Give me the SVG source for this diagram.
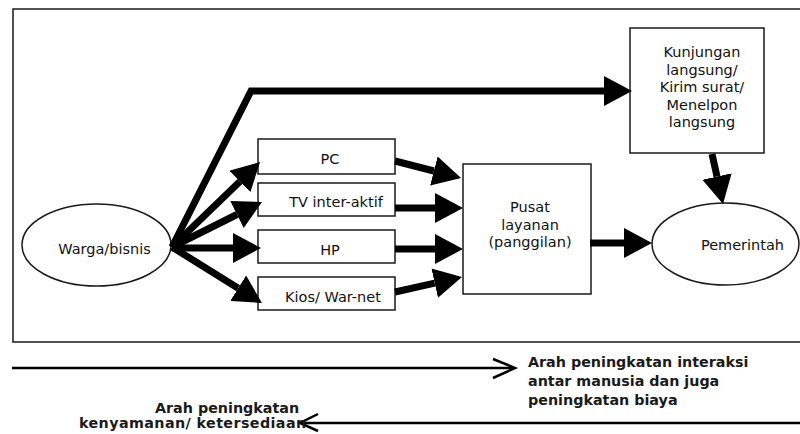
<svg xmlns="http://www.w3.org/2000/svg" width="800" height="434" viewBox="0 0 800 434">
<style>
.box{fill:#fff;stroke:#1a1a1a;stroke-width:1.5}
.t{font-family:"DejaVu Sans",Verdana,sans-serif;font-size:14.5px;fill:#111;text-anchor:middle}
.b{font-family:"DejaVu Sans",Verdana,sans-serif;font-size:14.3px;font-weight:bold;fill:#1a1a1a}
.thick{fill:none;stroke:#000;stroke-width:7;marker-end:url(#ah)}
.thin{fill:none;stroke:#000;stroke-width:2.5}
</style>
<defs>
<marker id="ah" viewBox="0 0 28 30" refX="0" refY="15" markerWidth="28" markerHeight="30" markerUnits="userSpaceOnUse" orient="auto">
<path d="M0,0 L28,15 L0,30 z" fill="#000"/>
</marker>
</defs>
<rect x="13" y="9" width="800" height="333" fill="none" stroke="#1a1a1a" stroke-width="1.5"/>
<g id="warga"><ellipse cx="96.5" cy="245" rx="74.5" ry="41" class="box"/><text x="104.5" y="254" class="t">Warga/bisnis</text></g>
<g id="pc"><rect x="258" y="139" width="137" height="35" class="box"/><text x="330" y="164" class="t">PC</text></g>
<g id="tv"><rect x="258" y="183" width="137" height="33" class="box"/><text x="336" y="207" class="t">TV inter-aktif</text></g>
<g id="hp"><rect x="258" y="230" width="137" height="33" class="box"/><text x="330" y="255" class="t">HP</text></g>
<g id="kios"><rect x="258" y="277" width="137" height="33" class="box"/><text x="333" y="302" class="t">Kios/ War-net</text></g>
<g id="pusat"><rect x="463" y="164" width="128" height="130" class="box"/><text class="t"><tspan x="530" y="212">Pusat</tspan><tspan x="530" y="229.5">layanan</tspan><tspan x="530" y="247">(panggilan)</tspan></text></g>
<g id="kunjungan"><rect x="630" y="28" width="134" height="125" class="box"/><text class="t"><tspan x="702" y="57">Kunjungan</tspan><tspan x="702" y="74.5">langsung/</tspan><tspan x="702" y="92">Kirim surat/</tspan><tspan x="702" y="109.5">Menelpon</tspan><tspan x="702" y="127">langsung</tspan></text></g>
<g id="pemerintah"><ellipse cx="725.5" cy="244" rx="73.5" ry="41" class="box"/><text x="742.5" y="250" class="t">Pemerintah</text></g>
<g id="connectors">
<polyline points="172,247 251,91 604,91" class="thick" stroke-linejoin="miter"/>
<line x1="172" y1="247" x2="239.9" y2="181.5" class="thick"/>
<line x1="172" y1="247" x2="237" y2="214.5" class="thick"/>
<line x1="172" y1="248" x2="233" y2="248" class="thick"/>
<line x1="172" y1="247" x2="238.2" y2="288.2" class="thick"/>
<line x1="395" y1="161" x2="433.9" y2="171" class="thick"/>
<line x1="395" y1="208" x2="435" y2="208" class="thick"/>
<line x1="395" y1="249" x2="435" y2="249" class="thick"/>
<line x1="395" y1="292" x2="434.7" y2="283.1" class="thick"/>
<line x1="590" y1="243" x2="624" y2="243" class="thick"/>
<line x1="712" y1="154" x2="717" y2="176.6" class="thick"/>
<line x1="12" y1="368" x2="514" y2="368" class="thin"/>
<polyline points="493,359 515,368 493,378" class="thin"/>
<line x1="301" y1="423" x2="800" y2="423" class="thin"/>
<polyline points="318,414 300,423 318,431" class="thin"/>
</g>
<text class="b"><tspan x="528" y="367">Arah peningkatan interaksi</tspan><tspan x="528" y="386">antar manusia dan juga</tspan><tspan x="528" y="405">peningkatan biaya</tspan></text>
<text class="b"><tspan x="155" y="413">Arah peningkatan</tspan><tspan x="79" y="428" letter-spacing="0.4">kenyamanan/ ketersediaan</tspan></text>
</svg>
